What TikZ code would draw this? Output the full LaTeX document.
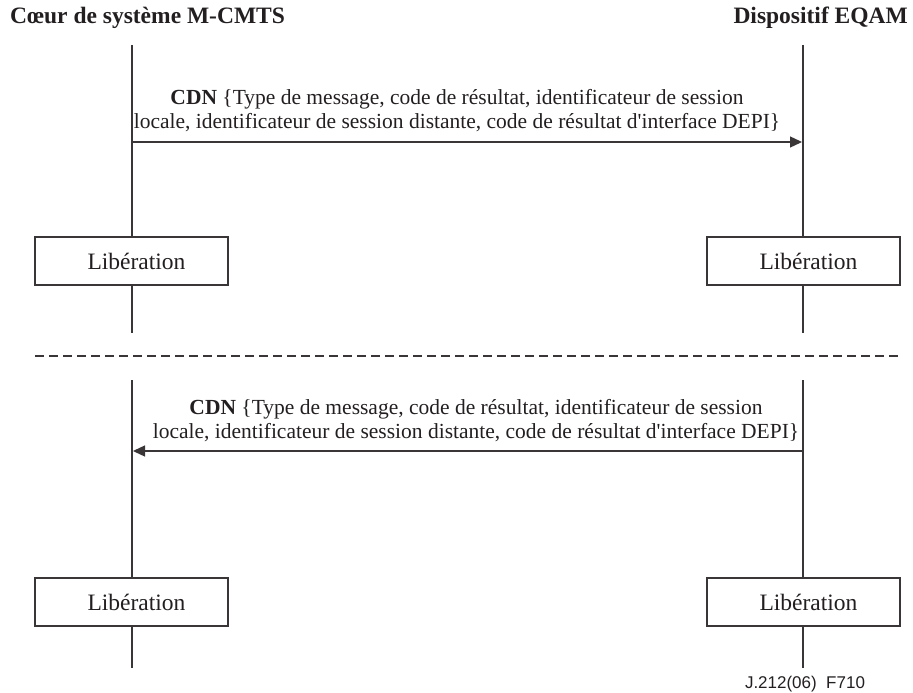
\documentclass[tikz,border=0pt]{standalone}
\usepackage{fontspec}
\setmainfont{Liberation Serif}[Ligatures=TeXOff]
\newfontfamily\footfont{Liberation Sans}
\usetikzlibrary{arrows.meta}
\definecolor{ink}{HTML}{231F20}
\definecolor{wire}{HTML}{3A3536}
\newcommand{\reltext}{\hspace*{10pt}Libération}
\begin{document}
\begin{tikzpicture}[x=1pt,y=-1pt,
  lifeline/.style={draw=wire,line width=2.6pt},
  relbox/.style={draw=wire,line width=2pt,fill=white,minimum width=193pt,minimum height=48pt,
    inner sep=0pt,font=\fontsize{23.5}{26}\selectfont,text=ink},
  msg/.style={draw=wire,line width=1.3pt,-{Triangle[length=12pt,width=11pt]}},
  msglabel/.style={align=center,font=\fontsize{21.5}{24}\selectfont,text=ink,inner sep=0pt},
  header/.style={font=\fontsize{23.5}{26}\selectfont\bfseries,text=ink,inner sep=0pt},
  sep/.style={draw=wire,line width=1.6pt,dash pattern=on 9pt off 5pt}]
\useasboundingbox (0,0) rectangle (913,693);

% column headings
\node[header,anchor=west] (hl) at (10,18) {Cœur de système M-CMTS};
\node[header,anchor=east] (hr) at (908,18) {Dispositif EQAM};

% lifeline anchor points
\coordinate (l1) at (132,45);  \coordinate (r1) at (803,45);
\coordinate (l2) at (132,333); \coordinate (r2) at (803,333);
\coordinate (l3) at (132,380); \coordinate (r3) at (803,380);
\coordinate (l4) at (132,668); \coordinate (r4) at (803,668);

% release boxes
\node[relbox] (rl1) at (131.5,261) {\reltext};
\node[relbox] (rr1) at (803.5,261) {\reltext};
\node[relbox] (rl2) at (131.5,602) {\reltext};
\node[relbox] (rr2) at (803.5,602) {\reltext};

% lifelines
\draw[lifeline] (l1) -- (rl1.north -| l1);
\draw[lifeline] (rl1.south -| l1) -- (l2);
\draw[lifeline] (r1) -- (rr1.north -| r1);
\draw[lifeline] (rr1.south -| r1) -- (r2);
\draw[lifeline] (l3) -- (rl2.north -| l3);
\draw[lifeline] (rl2.south -| l3) -- (l4);
\draw[lifeline] (r3) -- (rr2.north -| r3);
\draw[lifeline] (rr2.south -| r3) -- (r4);

% message end points
\coordinate (ma) at (133,142); \coordinate (mb) at (802,142);
\coordinate (mc) at (802,451); \coordinate (md) at (133,451);

% first CDN message
\draw[msg] (ma) -- (mb);
\node[msglabel] (t1) at (457,111) {\textbf{CDN} \{Type de message, code de résultat, identificateur de session\\
locale, identificateur de session distante, code de résultat d'interface DEPI\}};

% separator
\coordinate (s1) at (35,356); \coordinate (s2) at (900,356);
\draw[sep] (s1) -- (s2);

% second CDN message
\draw[msg] (mc) -- (md);
\node[msglabel] (t2) at (476,421) {\textbf{CDN} \{Type de message, code de résultat, identificateur de session\\
locale, identificateur de session distante, code de résultat d'interface DEPI\}};

% figure reference
\node[font=\footfont\fontsize{17}{19}\selectfont,text=ink,inner sep=0pt] (ref) at (805,684) {J.212(06)\ \ F710};
\end{tikzpicture}
\end{document}
